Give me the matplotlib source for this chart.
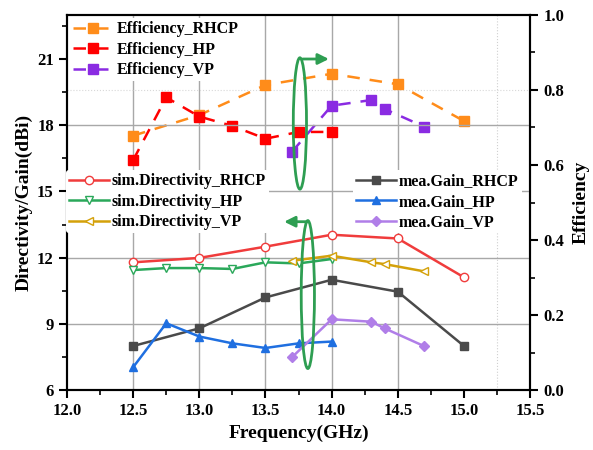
import numpy as np
import matplotlib
matplotlib.use("Agg")
import matplotlib.pyplot as plt
from matplotlib.patches import Ellipse
from matplotlib.ticker import MultipleLocator

plt.rcParams['font.family'] = ['Liberation Serif', 'DejaVu Serif']
plt.rcParams['font.weight'] = 'bold'

# efficiency (right axis)
f_eff_rhcp = [12.5, 13.0, 13.5, 14.0, 14.5, 15.0]
eff_rhcp = [0.678, 0.733, 0.813, 0.843, 0.815, 0.717]
f_eff_hp = [12.5, 12.75, 13.0, 13.25, 13.5, 13.75, 14.0]
eff_hp = [0.613, 0.780, 0.729, 0.704, 0.670, 0.688, 0.688]
f_eff_vp = [13.7, 14.0, 14.3, 14.4, 14.7]
eff_vp = [0.635, 0.758, 0.773, 0.749, 0.702]

# simulated directivity (left axis)
f_dir_rhcp = [12.5, 13.0, 13.5, 14.0, 14.5, 15.0]
dir_rhcp = [11.79, 11.99, 12.50, 13.04, 12.87, 11.11]
f_dir_hp = [12.5, 12.75, 13.0, 13.25, 13.5, 13.75, 14.0]
dir_hp = [11.44, 11.53, 11.53, 11.49, 11.79, 11.74, 11.94]
f_dir_vp = [13.7, 14.0, 14.3, 14.4, 14.7]
dir_vp = [11.86, 12.09, 11.79, 11.71, 11.38]

# measured gain (left axis)
f_gain_rhcp = [12.5, 13.0, 13.5, 14.0, 14.5, 15.0]
gain_rhcp = [8.0, 8.8, 10.2, 11.0, 10.46, 8.0]
f_gain_hp = [12.5, 12.75, 13.0, 13.25, 13.5, 13.75, 14.0]
gain_hp = [7.04, 9.03, 8.43, 8.12, 7.91, 8.12, 8.2]
f_gain_vp = [13.7, 14.0, 14.3, 14.4, 14.7]
gain_vp = [7.49, 9.21, 9.1, 8.8, 7.99]

# where the grey grid lines are drawn
grid_x = [12.5, 13.0, 13.5, 14.0, 14.5]
grid_y = [9, 12, 15, 18]

fig = plt.figure(figsize=(5.93, 4.5), dpi=100)
ax = fig.add_axes([0.113, 0.133, 0.781, 0.834])
ax2 = ax.twinx()

ax.set_zorder(ax2.get_zorder() + 1)
ax.patch.set_visible(False)

# grid
for gx in grid_x:
    ax2.axvline(gx, color='#a8a8a8', lw=1.0, zorder=0)
for gy in grid_y:
    ax.axhline(gy, color='#a8a8a8', lw=1.0, zorder=0)
ax2.axvline(15.25, color='#d0d0d0', lw=0.8, ls=':', zorder=0)
ax2.axhline(0.8, color='#d8d8d8', lw=0.8, ls=':', zorder=0)

ms = 6
l1, = ax.plot(f_dir_rhcp, dir_rhcp, '-o', color='#f03c3c', mfc='white', mec='#f03c3c', ms=ms, lw=1.8)
l2, = ax.plot(f_dir_hp, dir_hp, '-v', color='#2aa85a', mfc='white', mec='#2aa85a', ms=ms, lw=1.8)
l3, = ax.plot(f_dir_vp, dir_vp, '-<', color='#d4a10a', mfc='white', mec='#d4a10a', ms=ms, lw=1.8)
l4, = ax.plot(f_gain_rhcp, gain_rhcp, '-s', color='#4a4a4a', ms=ms, lw=1.8)
l5, = ax.plot(f_gain_hp, gain_hp, '-^', color='#1f6fe0', ms=ms, lw=1.8)
l6, = ax.plot(f_gain_vp, gain_vp, '-D', color='#b07ee8', ms=5, lw=1.8)

e1, = ax2.plot(f_eff_rhcp, eff_rhcp, '--s', color='#ff8c1a', ms=7, lw=1.8, dashes=(5, 4))
e2, = ax2.plot(f_eff_hp, eff_hp, '--s', color='#ff0000', ms=7, lw=1.8, dashes=(5, 4))
e3, = ax2.plot(f_eff_vp, eff_vp, '--s', color='#8a2be2', ms=7, lw=1.8, dashes=(5, 4))

ax.set_xlim(12.0, 15.5)
ax.set_ylim(6, 23)
ax2.set_ylim(0, 1.0)

ax.xaxis.set_major_locator(MultipleLocator(0.5))
ax.xaxis.set_minor_locator(MultipleLocator(0.25))
ax.yaxis.set_major_locator(MultipleLocator(3))
ax.yaxis.set_minor_locator(MultipleLocator(1.5))
ax2.yaxis.set_major_locator(MultipleLocator(0.2))
ax2.yaxis.set_minor_locator(MultipleLocator(0.1))

for a in (ax, ax2):
    a.tick_params(which='major', direction='out', length=6, width=1.5, labelsize=12)
    a.tick_params(which='minor', direction='out', length=3.5, width=1.2)
    for s in a.spines.values():
        s.set_linewidth(1.5)
    for lab in a.get_xticklabels() + a.get_yticklabels():
        lab.set_fontweight('bold')

ax.set_xlabel('Frequency(GHz)', fontsize=14, fontweight='bold')
ax.set_ylabel('Directivity/Gain(dBi)', fontsize=14, fontweight='bold', labelpad=3)
ax2.set_ylabel('Efficiency', fontsize=14, fontweight='bold', labelpad=6)

# annotations: ellipses and arrows
ax.add_patch(Ellipse((13.76, 18.08), 0.1, 5.95, fill=False, ec='#2e9e52', lw=2.0, zorder=6))
ax.annotate('', xy=(14.0, 21.0), xytext=(13.76, 21.0),
            arrowprops=dict(arrowstyle='-|>', color='#2e9e52', lw=2.0, mutation_scale=16), zorder=6)
ax.add_patch(Ellipse((13.82, 10.33), 0.1, 6.7, fill=False, ec='#2e9e52', lw=2.0, zorder=6))
ax.annotate('', xy=(13.62, 13.63), xytext=(13.84, 13.63),
            arrowprops=dict(arrowstyle='-|>', color='#2e9e52', lw=2.0, mutation_scale=16), zorder=6)

lp = dict(frameon=True, edgecolor='none', framealpha=1.0, borderpad=0.2,
          handlelength=2.5, handletextpad=0.2, borderaxespad=0.2, labelspacing=0.28,
          prop={'weight': 'bold', 'size': 11.5})
leg1 = ax.legend([e1, e2, e3], ['Efficiency_RHCP', 'Efficiency_HP', 'Efficiency_VP'],
                 loc='upper left', bbox_to_anchor=(0.0, 1.0), **lp)
ax.add_artist(leg1)
leg2 = ax.legend([l1, l2, l3], ['sim.Directivity_RHCP', 'sim.Directivity_HP', 'sim.Directivity_VP'],
                 loc='upper left', bbox_to_anchor=(-0.01, 0.595), **lp)
ax.add_artist(leg2)
leg3 = ax.legend([l4, l5, l6], ['mea.Gain_RHCP', 'mea.Gain_HP', 'mea.Gain_VP'],
                 loc='upper left', bbox_to_anchor=(0.61, 0.595), **lp)

fig.savefig('out.png', dpi=100)
